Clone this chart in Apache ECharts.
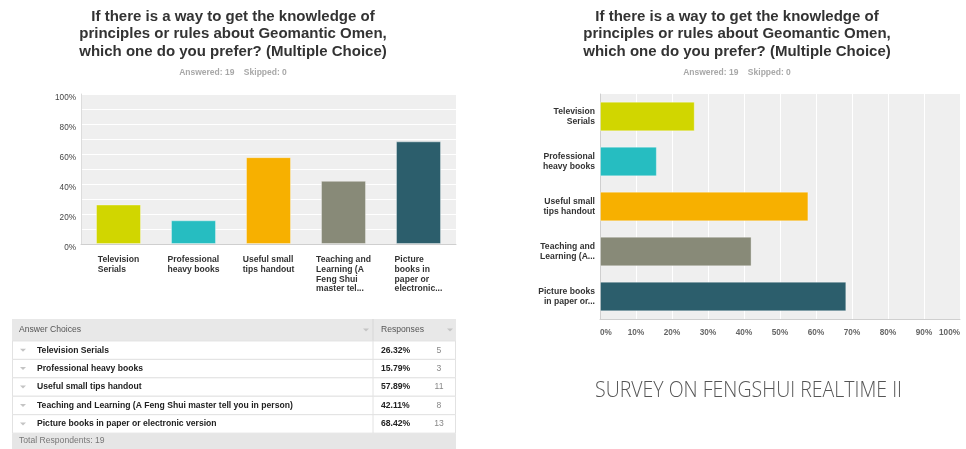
<!DOCTYPE html>
<html>
<head>
<meta charset="utf-8">
<script src="https://cdn.jsdelivr.net/npm/echarts@6/dist/echarts.min.js"></script>
<style>
  html, body { margin: 0; padding: 0; background: #fff; }
  #chart { width: 966px; height: 449px; }
</style>
</head>
<body>
<div id="chart"></div>
<script>
// ---- survey data ----
const questionLines = [
  'If there is a way to get the knowledge of',
  'principles or rules about Geomantic Omen,',
  'which one do you prefer? (Multiple Choice)'
];
const answeredCount = 19;
const skippedCount = 0;
const answers = [
  'Television Serials',
  'Professional heavy books',
  'Useful small tips handout',
  'Teaching and Learning (A Feng Shui master tell you in person)',
  'Picture books in paper or electronic version'
];
// wrapped / truncated tick labels for the two chart orientations
const columnLabels = [
  ['Television', 'Serials'],
  ['Professional', 'heavy books'],
  ['Useful small', 'tips handout'],
  ['Teaching and', 'Learning (A', 'Feng Shui', 'master tel...'],
  ['Picture', 'books in', 'paper or', 'electronic...']
];
const rowLabels = [
  ['Television', 'Serials'],
  ['Professional', 'heavy books'],
  ['Useful small', 'tips handout'],
  ['Teaching and', 'Learning (A...'],
  ['Picture books', 'in paper or...']
];
const percents = [26.32, 15.79, 57.89, 42.11, 68.42];
const counts = [5, 3, 11, 8, 13];
const tableHeaders = ['Answer Choices', 'Responses'];
const totalRespondents = 19;
const reportTitle = 'SURVEY ON FENGSHUI REALTIME II';

const barColors = ['#d1d600', '#26bdc1', '#f7b000', '#888a78', '#2c5e6c'];

// ---- layout constants ----
const FONT = '"Liberation Sans", Arial, Helvetica, sans-serif';
const TABLE_W = 444;       // table width in px units of its x axis
const COL_X = 361;         // divider between answer column and responses column
const HEADER_SPAN = 1.19;  // header height in row units
const FOOTER_SPAN = 0.86;  // footer height in row units
const TABLE_FONT = 8.6;

const chart = echarts.init(document.getElementById('chart'), null, { renderer: 'canvas' });

const questionText = questionLines.join('\n');
const answeredText = 'Answered: ' + answeredCount + '    Skipped: ' + skippedCount;

function titleBlock(cx) {
  return [
    {
      text: questionText, left: cx, top: 8, textAlign: 'center', padding: 0,
      textStyle: { fontFamily: FONT, fontSize: 15, fontWeight: 'bold', color: '#333', lineHeight: 17.5 }
    },
    {
      text: answeredText, left: cx, top: 68, textAlign: 'center', padding: 0,
      textStyle: { fontFamily: FONT, fontSize: 8.5, fontWeight: 'bold', color: '#a8a8a8' }
    }
  ];
}

function arrowShape(x, y) {
  return {
    type: 'polygon',
    shape: { points: [[x, y - 1.5], [x + 6, y - 1.5], [x + 3, y + 1.5]] },
    style: { fill: '#c4c4c4' }
  };
}

function txt(x, y, text, opts) {
  return {
    type: 'text',
    style: Object.assign({
      x: x, y: y, text: text, fontFamily: FONT, fontSize: TABLE_FONT,
      verticalAlign: 'middle', align: 'left', fill: '#333'
    }, opts || {})
  };
}

function renderHeader(params, api) {
  const a = api.coord([0, -HEADER_SPAN]);
  const b = api.coord([TABLE_W, 0]);
  const cx = api.coord([COL_X, 0])[0];
  const my = (a[1] + b[1]) / 2;
  const x0 = a[0];
  return {
    type: 'group',
    children: [
      { type: 'rect', shape: { x: x0, y: a[1], width: b[0] - x0, height: b[1] - a[1] }, style: { fill: '#e8e8e8' } },
      { type: 'line', shape: { x1: cx, y1: a[1], x2: cx, y2: b[1] }, style: { stroke: '#d6d6d6', lineWidth: 1 } },
      txt(x0 + 7, my, tableHeaders[0], { fill: '#555' }),
      arrowShape(cx - 10, my),
      txt(cx + 8, my, tableHeaders[1], { fill: '#555' }),
      arrowShape(b[0] - 9, my)
    ]
  };
}

function renderRow(params, api) {
  const i = api.value(0);
  const a = api.coord([0, i]);
  const b = api.coord([TABLE_W, i + 1]);
  const cx = api.coord([COL_X, 0])[0];
  const my = (a[1] + b[1]) / 2;
  const x0 = a[0];
  return {
    type: 'group',
    children: [
      { type: 'rect', shape: { x: x0 + 0.5, y: a[1], width: b[0] - x0 - 1, height: b[1] - a[1] }, style: { fill: '#fff', stroke: '#e2e2e2', lineWidth: 1 } },
      { type: 'line', shape: { x1: cx, y1: a[1], x2: cx, y2: b[1] }, style: { stroke: '#e2e2e2', lineWidth: 1 } },
      arrowShape(x0 + 8, my),
      txt(x0 + 25, my, answers[i], { fontWeight: 'bold', fill: '#222' }),
      txt(cx + 8, my, api.value(1).toFixed(2) + '%', { fontWeight: 'bold', fill: '#222' }),
      txt(cx + 66, my, String(api.value(2)), { align: 'center', fill: '#888' })
    ]
  };
}

function renderFooter(params, api) {
  const a = api.coord([0, answers.length]);
  const b = api.coord([TABLE_W, answers.length + FOOTER_SPAN]);
  const x0 = a[0];
  return {
    type: 'group',
    children: [
      { type: 'rect', shape: { x: x0, y: a[1], width: b[0] - x0, height: b[1] - a[1] }, style: { fill: '#e6e6e6' } },
      txt(x0 + 7, (a[1] + b[1]) / 2, 'Total Respondents: ' + totalRespondents, { fill: '#777' })
    ]
  };
}

const option = {
  animation: false,
  backgroundColor: '#fff',
  title: [
    ...titleBlock(233),
    ...titleBlock(737)
  ],
  graphic: [
    {
      type: 'text', left: 595, top: 380, scaleX: 0.887, originX: 0,
      style: {
        text: reportTitle, fontFamily: '"Open Sans", "Noto Sans", sans-serif',
        fontSize: 22, fontWeight: 300, fill: '#555'
      }
    }
  ],
  grid: [
    { left: 81, top: 94, width: 375, height: 150, show: true, backgroundColor: '#efefef', borderWidth: 0 },
    { left: 600, top: 94, width: 360, height: 225, show: true, backgroundColor: '#efefef', borderWidth: 0 },
    { left: 12, top: 319, width: TABLE_W, height: 130 }
  ],
  xAxis: [
    {
      gridIndex: 0, type: 'category',
      data: columnLabels.map(l => l.join('\n')),
      axisTick: { show: false },
      axisLine: { lineStyle: { color: '#cfcfcf' } },
      axisLabel: {
        margin: 11, interval: 0,
        formatter: v => '{a|' + v + '}',
        rich: { a: { align: 'left', fontFamily: FONT, fontSize: 8.6, fontWeight: 'bold', color: '#333', lineHeight: 9.7 } }
      }
    },
    {
      gridIndex: 1, type: 'value', min: 0, max: 100, interval: 10,
      axisLine: { show: true, lineStyle: { color: '#cfcfcf' } },
      axisTick: { show: false },
      splitLine: { lineStyle: { color: '#fff', width: 1 } },
      axisLabel: {
        margin: 10, formatter: '{value}%', alignMinLabel: 'left', alignMaxLabel: 'right',
        fontFamily: FONT, fontSize: 8.2, fontWeight: 'bold', color: '#666'
      }
    },
    { gridIndex: 2, type: 'value', min: 0, max: TABLE_W, show: false }
  ],
  yAxis: [
    {
      gridIndex: 0, type: 'value', min: 0, max: 100, interval: 10,
      axisLine: { show: true, lineStyle: { color: '#dcdcdc' } },
      axisTick: { show: false },
      splitLine: { lineStyle: { color: '#fff', width: 1 } },
      axisLabel: {
        margin: 5, verticalAlign: 'top',
        formatter: v => (v % 20 === 0 ? v + '%' : ''),
        fontFamily: FONT, fontSize: 8.2, color: '#444'
      }
    },
    {
      gridIndex: 1, type: 'category', inverse: true,
      data: rowLabels.map(l => l.join('\n')),
      axisTick: { show: false },
      axisLine: { lineStyle: { color: '#cfcfcf' } },
      axisLabel: { margin: 5, interval: 0, fontFamily: FONT, fontSize: 8.6, fontWeight: 'bold', color: '#333', lineHeight: 9.7 }
    },
    { gridIndex: 2, type: 'value', min: -HEADER_SPAN, max: answers.length + FOOTER_SPAN, inverse: true, show: false }
  ],
  series: [
    {
      type: 'bar', xAxisIndex: 0, yAxisIndex: 0, barWidth: '60%',
      data: percents.map((v, i) => ({ value: v, itemStyle: { color: barColors[i] } })),
      itemStyle: { borderColor: 'rgba(255,255,255,0.35)', borderWidth: 1 }
    },
    {
      type: 'bar', xAxisIndex: 1, yAxisIndex: 1, barWidth: '66%',
      data: percents.map((v, i) => ({ value: v, itemStyle: { color: barColors[i] } })),
      itemStyle: { borderColor: 'rgba(255,255,255,0.35)', borderWidth: 1 }
    },
    {
      type: 'custom', coordinateSystem: 'cartesian2d', xAxisIndex: 2, yAxisIndex: 2, silent: true,
      renderItem: renderHeader, data: [[0]]
    },
    {
      type: 'custom', coordinateSystem: 'cartesian2d', xAxisIndex: 2, yAxisIndex: 2, silent: true,
      renderItem: renderRow,
      data: answers.map((a, i) => [i, percents[i], counts[i]])
    },
    {
      type: 'custom', coordinateSystem: 'cartesian2d', xAxisIndex: 2, yAxisIndex: 2, silent: true,
      renderItem: renderFooter, data: [[0]]
    }
  ]
};

chart.setOption(option);
</script>
</body>
</html>
